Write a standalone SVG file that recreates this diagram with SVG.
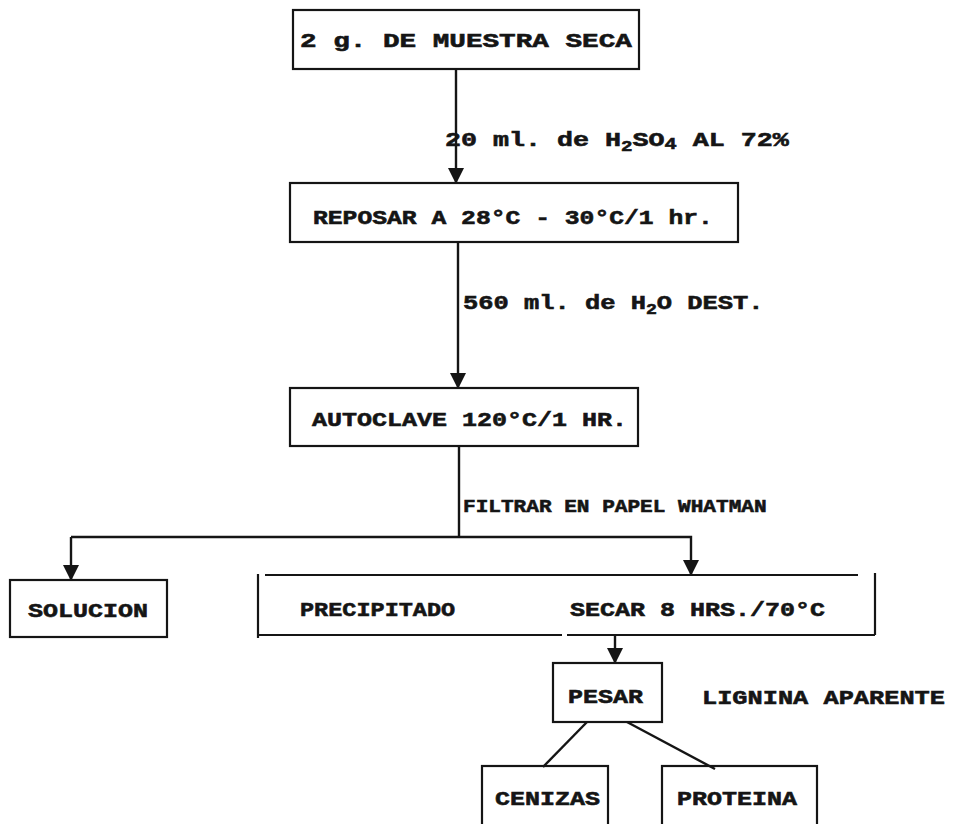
<svg xmlns="http://www.w3.org/2000/svg" width="954" height="824" viewBox="0 0 954 824">
<style>
.box{fill:none;stroke:#151515;stroke-width:2.2}
.ln{fill:none;stroke:#151515;stroke-width:2.4}
text{font-family:"Liberation Mono","DejaVu Sans Mono",monospace;font-weight:bold;font-size:21px;fill:#151515;stroke:#151515;stroke-width:0.6}
.sm{font-size:19px}
</style>
<defs>
<marker id="ah" markerUnits="userSpaceOnUse" markerWidth="18" markerHeight="16" refX="16" refY="8" orient="auto">
<path d="M0,0 L16,8 L0,16 Z" fill="#151515"/>
</marker>
</defs>
<rect width="954" height="824" fill="#ffffff"/>
<g id="connectors">
<line class="ln" x1="456" y1="69" x2="456" y2="184" marker-end="url(#ah)"/>
<line class="ln" x1="458" y1="242" x2="458" y2="389" marker-end="url(#ah)"/>
<line class="ln" x1="459" y1="446" x2="459" y2="537"/>
<path class="ln" d="M71,537 H691 V576" marker-end="url(#ah)"/>
<line class="ln" x1="71" y1="537" x2="71" y2="581" marker-end="url(#ah)"/>
<line class="ln" x1="615" y1="635" x2="615" y2="664" marker-end="url(#ah)"/>
<line class="ln" x1="587" y1="722" x2="543" y2="767"/>
<line class="ln" x1="627" y1="722" x2="715" y2="769"/>
<text transform="translate(445,146) scale(1.27,1)">20 ml. de H<tspan dy="5" font-size="15">2</tspan><tspan dy="-5">SO</tspan><tspan dy="3" font-size="16">4</tspan><tspan dy="-3">  AL 72%</tspan></text>
<text transform="translate(463,309) scale(1.21,1)">560 ml. de H<tspan dy="5" font-size="15">2</tspan><tspan dy="-5">O DEST.</tspan></text>
<text class="sm" transform="translate(463,512) scale(1.11,1)">FILTRAR EN PAPEL WHATMAN</text>
</g>
<g id="n1">
<rect class="box" x="293" y="10" width="346" height="59"/>
<text transform="translate(300,47) scale(1.317,1)">2 g. DE MUESTRA SECA</text>
</g>
<g id="n2">
<rect class="box" x="290" y="183" width="448" height="59"/>
<text transform="translate(313,224) scale(1.176,1)">REPOSAR A 28°C - 30°C/1 hr.</text>
</g>
<g id="n3">
<rect class="box" x="290" y="388" width="348" height="58"/>
<text transform="translate(312,426) scale(1.19,1)">AUTOCLAVE 120°C/1 HR.</text>
</g>
<g id="n4">
<rect class="box" x="10" y="580" width="157" height="57"/>
<text transform="translate(28,617) scale(1.19,1)">SOLUCION</text>
</g>
<g id="n5">
<path class="box" d="M258,574 V638 M265,575 H858 M875,573 V635 M258,635 H562 M567,635 H875"/>
<text transform="translate(300,616) scale(1.12,1)">PRECIPITADO</text>
<text transform="translate(570,616) scale(1.19,1)">SECAR 8 HRS./70°C</text>
</g>
<g id="n6">
<rect class="box" x="553" y="663" width="109" height="59"/>
<text transform="translate(568,703) scale(1.19,1)">PESAR</text>
</g>
<g id="n7">
<text transform="translate(702,704) scale(1.205,1)">LIGNINA APARENTE</text>
</g>
<g id="n8">
<rect class="box" x="482" y="766" width="126" height="70"/>
<text transform="translate(495,805) scale(1.19,1)">CENIZAS</text>
</g>
<g id="n9">
<rect class="box" x="662" y="766" width="155" height="70"/>
<text transform="translate(677,805) scale(1.19,1)">PROTEINA</text>
</g>
</svg>
